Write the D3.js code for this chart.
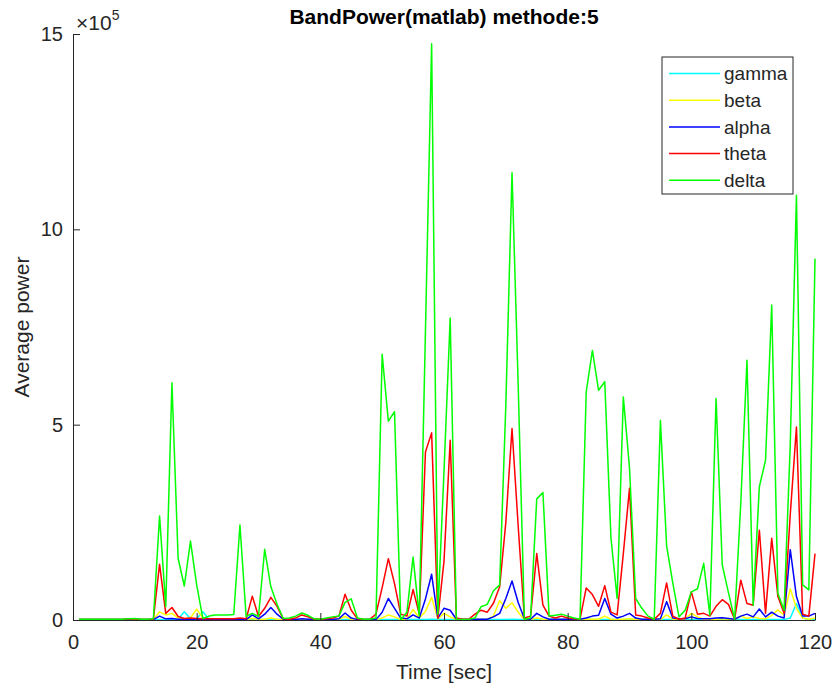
<!DOCTYPE html>
<html>
<head>
<meta charset="utf-8">
<script src="https://cdn.jsdelivr.net/npm/d3@7"></script>
<style>
  body { margin: 0; background: #fff; }
  svg { display: block; font-family: "Liberation Sans", Arial, Helvetica, sans-serif; }
  .axis path, .axis line { stroke: #262626; }
  .axis text { fill: #262626; font-size: 20px; }
</style>
</head>
<body>
<svg id="chart" width="834" height="688"></svg>
<script>
// time in seconds, one sample per second
var time = d3.range(1, 121);

// average power per band, in units of 1e5
var delta = [0.02,0.02,0.02,0.02,0.02,0.02,0.02,0.02,0.03,0.04,0.02,0.02,0.03,2.66,0.34,6.07,1.58,0.87,2.02,0.9,
  0.04,0.1,0.13,0.13,0.13,0.14,2.43,0.09,0.17,0.09,1.81,0.85,0.4,0.04,0.05,0.1,0.18,0.12,0.03,0.02,
  0.05,0.08,0.1,0.45,0.54,0.05,0.02,0.02,0.05,6.8,5.09,5.33,0.0,0.2,1.61,0.1,7.4,14.75,0.15,3.8,
  7.73,0.02,0.01,0.02,0.05,0.34,0.4,0.75,0.9,5.5,11.45,6.0,0.02,0.05,3.1,3.26,0.1,0.12,0.15,0.1,
  0.05,0.02,5.84,6.9,5.88,6.1,2.1,0.55,5.71,3.9,0.55,0.3,0.1,0.02,5.11,1.9,0.95,0.08,0.25,0.72,
  0.8,1.45,0.12,5.67,1.41,0.7,0.02,3.0,6.65,0.38,3.41,4.09,8.06,0.68,0.25,4.5,10.87,0.9,0.77,9.25];

var theta = [0.01,0.01,0.01,0.01,0.01,0.01,0.01,0.01,0.03,0.02,0.01,0.01,0.02,1.43,0.17,0.32,0.09,0.04,0.05,0.04,
  0.03,0.03,0.03,0.03,0.03,0.03,0.05,0.03,0.61,0.09,0.3,0.58,0.35,0.03,0.02,0.05,0.13,0.08,0.02,0.02,
  0.03,0.05,0.1,0.66,0.25,0.03,0.01,0.02,0.15,0.83,1.57,0.93,0.15,0.1,0.78,0.15,4.3,4.79,0.05,1.5,
  4.6,0.05,0.02,0.02,0.15,0.25,0.2,0.43,0.85,2.5,4.9,2.4,0.05,0.1,1.7,0.38,0.1,0.05,0.1,0.05,
  0.03,0.02,0.82,0.65,0.35,0.88,0.2,0.13,1.7,3.37,0.13,0.1,0.05,0.02,0.17,0.95,0.1,0.02,0.05,0.72,
  0.15,0.17,0.1,0.35,0.52,0.4,0.02,1.02,0.42,0.38,2.3,0.17,2.09,0.6,0.17,2.7,4.94,0.15,0.1,1.7];

var alpha = [0.01,0.01,0.01,0.01,0.01,0.01,0.01,0.01,0.02,0.03,0.01,0.01,0.01,0.1,0.03,0.04,0.02,0.02,0.01,0.02,
  0.01,0.01,0.01,0.01,0.01,0.01,0.02,0.01,0.13,0.03,0.15,0.32,0.15,0.02,0.01,0.01,0.03,0.02,0.01,0.01,
  0.01,0.01,0.03,0.18,0.05,0.01,0.01,0.01,0.01,0.2,0.55,0.3,0.05,0.03,0.13,0.05,0.54,1.17,0.05,0.3,
  0.25,0.02,0.01,0.01,0.02,0.02,0.02,0.08,0.17,0.55,1.0,0.45,0.03,0.02,0.17,0.08,0.02,0.02,0.02,0.02,
  0.02,0.02,0.05,0.1,0.12,0.55,0.15,0.05,0.1,0.17,0.05,0.02,0.02,0.02,0.03,0.47,0.05,0.03,0.03,0.08,
  0.04,0.03,0.03,0.05,0.06,0.04,0.02,0.1,0.15,0.08,0.28,0.08,0.2,0.1,0.05,1.8,0.6,0.1,0.1,0.17];

var beta = [0.01,0.01,0.01,0.01,0.01,0.01,0.01,0.01,0.01,0.01,0.01,0.01,0.01,0.21,0.13,0.17,0.05,0.03,0.05,0.28,
  0.05,0.01,0.01,0.01,0.01,0.01,0.01,0.01,0.04,0.01,0.02,0.05,0.02,0.01,0.01,0.01,0.01,0.01,0.01,0.01,
  0.01,0.01,0.02,0.09,0.02,0.01,0.01,0.01,0.01,0.05,0.13,0.08,0.01,0.02,0.27,0.05,0.22,0.58,0.03,0.17,
  0.08,0.01,0.01,0.01,0.01,0.01,0.02,0.1,0.5,0.3,0.44,0.2,0.01,0.01,0.05,0.02,0.01,0.01,0.01,0.01,
  0.01,0.01,0.02,0.02,0.02,0.1,0.02,0.01,0.02,0.03,0.01,0.01,0.01,0.01,0.01,0.13,0.02,0.01,0.02,0.17,
  0.08,0.02,0.01,0.02,0.03,0.02,0.01,0.1,0.04,0.08,0.04,0.03,0.12,0.26,0.12,0.8,0.3,0.05,0.02,0.05];

var gamma = [0.005,0.005,0.005,0.005,0.005,0.005,0.005,0.005,0.005,0.005,0.005,0.005,0.005,0.01,0.01,0.01,0.02,0.21,0.03,0.03,
  0.21,0.02,0.01,0.01,0.01,0.01,0.01,0.01,0.01,0.01,0.01,0.01,0.01,0.01,0.01,0.01,0.01,0.01,0.01,0.01,
  0.01,0.01,0.01,0.01,0.01,0.01,0.01,0.01,0.01,0.01,0.01,0.01,0.01,0.01,0.01,0.01,0.01,0.02,0.01,0.01,
  0.01,0.01,0.01,0.01,0.01,0.01,0.01,0.01,0.01,0.01,0.02,0.01,0.01,0.01,0.01,0.01,0.01,0.01,0.01,0.01,
  0.01,0.01,0.01,0.01,0.01,0.01,0.01,0.01,0.01,0.01,0.01,0.01,0.01,0.01,0.01,0.01,0.01,0.01,0.01,0.01,
  0.01,0.01,0.01,0.01,0.01,0.01,0.01,0.01,0.01,0.01,0.01,0.01,0.01,0.01,0.01,0.05,0.42,0.05,0.01,0.01];

var bandNames = ['gamma', 'beta', 'alpha', 'theta', 'delta'];
var bandColors = ['#00ffff', '#ffff00', '#0000ff', '#ff0000', '#00ff00'];
var xTicks = [0, 20, 40, 60, 80, 100, 120];
var yTicks = [0, 5, 10, 15];

var series = [gamma, beta, alpha, theta, delta];

var svg = d3.select('#chart');

var x = d3.scaleLinear().domain([0, 120]).range([73, 815]);
var y = d3.scaleLinear().domain([0, 15]).range([620, 34]);

// lines first so the axes sit on top
var line = d3.line()
    .x(function (d, i) { return x(time[i]); })
    .y(function (d) { return y(d); });

svg.append('g')
    .selectAll('path')
    .data(series)
    .enter()
    .append('path')
    .attr('d', line)
    .attr('fill', 'none')
    .attr('stroke', function (d, i) { return bandColors[i]; })
    .attr('stroke-width', 1.5)
    .attr('stroke-linejoin', 'round');

svg.append('g')
    .attr('class', 'axis')
    .attr('transform', 'translate(0,' + y(0) + ')')
    .call(d3.axisBottom(x).tickValues(xTicks).tickSizeInner(-7).tickSizeOuter(0).tickPadding(15))
    .select('.domain').attr('stroke-width', 1);

svg.append('g')
    .attr('class', 'axis')
    .attr('transform', 'translate(' + x(0) + ',0)')
    .call(d3.axisLeft(y).tickValues(yTicks).tickSizeInner(-7).tickSizeOuter(0).tickPadding(10));

// exponent label
var expo = svg.append('text')
    .attr('x', 76)
    .attr('y', 30)
    .attr('fill', '#262626')
    .style('font-size', '21px');
expo.append('tspan').text('\u00d710');
expo.append('tspan').attr('dy', -10).style('font-size', '14px').text('5');

// title and axis labels
svg.append('text')
    .attr('x', (x(0) + x(120)) / 2)
    .attr('y', 24)
    .attr('text-anchor', 'middle')
    .attr('fill', '#000')
    .style('font-size', '21px')
    .style('font-weight', 'bold')
    .text('BandPower(matlab) methode:5');

svg.append('text')
    .attr('x', (x(0) + x(120)) / 2)
    .attr('y', 679)
    .attr('text-anchor', 'middle')
    .attr('fill', '#262626')
    .style('font-size', '21px')
    .text('Time [sec]');

svg.append('text')
    .attr('transform', 'translate(29,' + ((y(0) + y(15)) / 2) + ') rotate(-90)')
    .attr('text-anchor', 'middle')
    .attr('fill', '#262626')
    .style('font-size', '21px')
    .text('Average power');

// legend
var legend = svg.append('g').attr('transform', 'translate(662,57)');
legend.append('rect')
    .attr('width', 131)
    .attr('height', 137)
    .attr('fill', '#fff')
    .attr('stroke', '#262626')
    .attr('stroke-width', 1);

var item = legend.selectAll('g.item')
    .data(bandNames)
    .enter()
    .append('g')
    .attr('class', 'item')
    .attr('transform', function (d, i) { return 'translate(0,' + (16.5 + i * 26.7) + ')'; });

item.append('line')
    .attr('x1', 7).attr('x2', 58)
    .attr('stroke', function (d, i) { return bandColors[i]; })
    .attr('stroke-width', 1.5);

item.append('text')
    .attr('x', 62)
    .attr('dy', '0.35em')
    .attr('fill', '#262626')
    .style('font-size', '19px')
    .text(String);
</script>
</body>
</html>
